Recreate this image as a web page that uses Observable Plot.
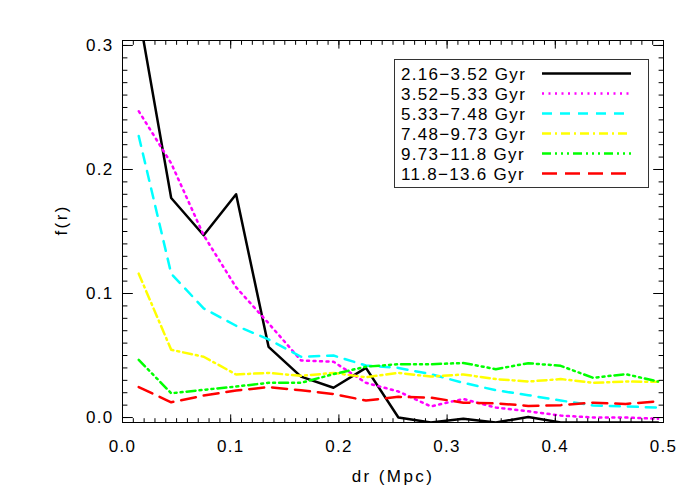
<!DOCTYPE html>
<html><head><meta charset="utf-8">
<script src="https://cdn.jsdelivr.net/npm/d3@7"></script>
<script src="https://cdn.jsdelivr.net/npm/@observablehq/plot@0.6"></script>
<style>
body{margin:0;background:#fff;}
#wrap{position:relative;width:700px;height:500px;}
#wrap svg{display:block;}
#wrap svg text{font-size:17px;letter-spacing:1.3px;font-family:"Liberation Sans",Arial,Helvetica,sans-serif;}
#wrap svg g.title text{letter-spacing:2.4px;}
#legend{position:absolute;left:0;top:0;pointer-events:none;}
</style></head><body><div id="wrap"></div>
<script>
const dr = [0.015,0.045,0.075,0.105,0.135,0.165,0.195,0.225,0.255,0.285,0.315,0.345,0.375,0.405,0.435,0.465,0.495];
const labels = ["2.16\u22123.52 Gyr","3.52\u22125.33 Gyr","5.33\u22127.48 Gyr","7.48\u22129.73 Gyr","9.73\u221211.8 Gyr","11.8\u221213.6 Gyr"];
const colors = ["#000000","#ff00ff","#00ffff","#ffff00","#00ff00","#ff0000"];
const dashes = [null,"2,4.5","10,8","9,4,2,4","9,4,2,4,2,4,2,4","15,8"];
const s1 = [0.326,0.177,0.147,0.180,0.057,0.033,0.024,0.040,0.0,-0.004,-0.001,-0.004,0.0005,-0.004,-0.004,-0.004,-0.004];
const s2 = [0.247,0.205,0.147,0.105,0.076,0.046,0.045,0.028,0.021,0.009,0.015,0.008,0.005,0.0016,0.0,0.0,-0.001];
const s3 = [0.227,0.116,0.088,0.074,0.063,0.049,0.050,0.042,0.040,0.035,0.028,0.022,0.018,0.0137,0.0097,0.009,0.008];
const s4 = [0.116,0.0546,0.049,0.0347,0.036,0.0336,0.036,0.0325,0.036,0.033,0.0347,0.031,0.029,0.031,0.028,0.029,0.0288];
const s5 = [0.0465,0.0196,0.0223,0.025,0.028,0.028,0.035,0.041,0.043,0.043,0.044,0.039,0.0438,0.0417,0.032,0.035,0.029];
const s6 = [0.0245,0.0123,0.0177,0.0218,0.0245,0.022,0.019,0.0137,0.0167,0.016,0.012,0.0115,0.0094,0.010,0.012,0.011,0.013];
const series = [s1,s2,s3,s4,s5,s6];
const xMajor = [0,0.1,0.2,0.3,0.4,0.5];
const yMajor = [0,0.1,0.2,0.3];
const xMinor = d3.range(0,51).map(i => i/100);
const yMinor = d3.range(0,31).map(i => i/100);

const font = "Liberation Sans, Arial, Helvetica, sans-serif";
const fmt = d3.format(".1f");

const lineMarks = series.map((s,k) => Plot.line(dr.map((d,i) => ({x:d, y:s[i]})), {
  x:"x", y:"y", stroke: colors[k], strokeWidth: 2.5,
  strokeDasharray: dashes[k] || undefined, clip: true
}));

const tickOpts = {fill:"none", tickFormat: () => "", label: null, stroke:"black"};

const chart = Plot.plot({
  width: 700, height: 500,
  marginLeft: 122, marginRight: 37, marginTop: 40, marginBottom: 78,
  style: {fontFamily: font, fontSize: "17px", background: "white", overflow: "visible"},
  x: {domain:[0,0.5]},
  y: {domain:[-0.004,0.304]},
  marks: [
    ...lineMarks,
    Plot.frame({stroke:"black"}),
    Plot.axisX(xMajor, {...tickOpts, anchor:"bottom", tickSize:-7.6}),
    Plot.axisX(xMinor, {...tickOpts, anchor:"bottom", tickSize:-3.8}),
    Plot.axisX(xMajor, {...tickOpts, anchor:"top", tickSize:-7.6}),
    Plot.axisX(xMinor, {...tickOpts, anchor:"top", tickSize:-3.8}),
    Plot.axisY(yMajor, {...tickOpts, anchor:"left", tickSize:-10.8}),
    Plot.axisY(yMinor, {...tickOpts, anchor:"left", tickSize:-5.4}),
    Plot.axisY(yMajor, {...tickOpts, anchor:"right", tickSize:-10.8}),
    Plot.axisY(yMinor, {...tickOpts, anchor:"right", tickSize:-5.4}),
    Plot.axisX(xMajor, {anchor:"bottom", tickSize:0, tickPadding:17, tickFormat: fmt, label:null, fill:"black", fontSize:17}),
    Plot.axisY(yMajor, {anchor:"left", tickSize:0, tickPadding:9, tickFormat: fmt, label:null, fill:"black", fontSize:17}),
    Plot.text(["dr (Mpc)"], {frameAnchor:"bottom", dy:59, lineAnchor:"bottom", fontSize:17, fill:"black", className:"title"}),
    Plot.text(["f(r)"], {frameAnchor:"left", dx:-61, dy:4, rotate:-90, lineAnchor:"middle", fontSize:17, fill:"black", className:"title"})
  ]
});
const wrap = document.getElementById("wrap");
wrap.appendChild(chart);

// legend overlay
const lg = d3.select(wrap).append("svg").attr("id","legend").attr("width",700).attr("height",500)
  .style("font-family", font).style("font-size","17px");
lg.append("rect").attr("x",394.5).attr("y",59.5).attr("width",254).attr("height",128)
  .attr("fill","white").attr("stroke","#333").attr("stroke-width",1);
labels.forEach((t,i) => {
  lg.append("text").attr("x",401).attr("y",79.5+20*i).attr("fill","black").text(t);
  lg.append("line").attr("x1",542).attr("x2",631).attr("y1",73.5+20*i).attr("y2",73.5+20*i)
    .attr("stroke",colors[i]).attr("stroke-width",2.5)
    .attr("stroke-dasharray", dashes[i] || null);
});
</script></body></html>
